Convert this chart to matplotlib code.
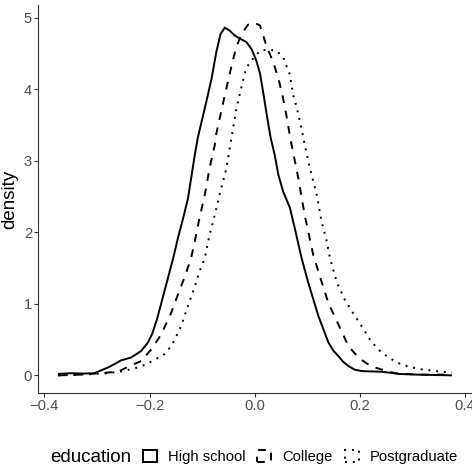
import matplotlib
matplotlib.use("Agg")
import matplotlib.pyplot as plt
from matplotlib.patches import Patch

plt.rcParams['font.family'] = ['Liberation Sans', 'DejaVu Sans']

# density curves
hs_x = [-0.374, -0.35, -0.325, -0.305, -0.292, -0.279, -0.266, -0.254, -0.235, -0.216,
        -0.203, -0.195, -0.186, -0.178, -0.165, -0.155, -0.146, -0.136, -0.127, -0.121,
        -0.114, -0.108, -0.095, -0.082, -0.073, -0.065, -0.057, -0.048, -0.038, -0.029,
        -0.016, -0.006, 0.003, 0.010, 0.016, 0.022, 0.030, 0.038, 0.045, 0.054,
        0.067, 0.076, 0.089, 0.102, 0.121, 0.140, 0.150, 0.159, 0.168, 0.178,
        0.190, 0.203, 0.241, 0.260, 0.273, 0.310, 0.375]
hs_y = [0.02, 0.03, 0.025, 0.03, 0.07, 0.11, 0.16, 0.21, 0.25, 0.34,
        0.46, 0.58, 0.78, 1.00, 1.36, 1.64, 1.92, 2.20, 2.47, 2.75,
        3.08, 3.33, 3.73, 4.15, 4.52, 4.77, 4.86, 4.82, 4.75, 4.71,
        4.66, 4.56, 4.40, 4.22, 3.96, 3.68, 3.33, 3.08, 2.80, 2.57,
        2.34, 2.06, 1.64, 1.29, 0.83, 0.46, 0.34, 0.27, 0.19, 0.13,
        0.08, 0.06, 0.05, 0.035, 0.02, 0.01, 0.0]

col_x = [-0.374, -0.33, -0.295, -0.26, -0.241, -0.216, -0.197, -0.178, -0.159, -0.146,
         -0.133, -0.121, -0.114, -0.105, -0.095, -0.086, -0.076, -0.073, -0.057, -0.044,
         -0.035, -0.025, -0.013, -0.001, 0.010, 0.022, 0.035, 0.045, 0.054, 0.060,
         0.068, 0.083, 0.095, 0.111, 0.124, 0.140, 0.156, 0.178, 0.197, 0.212,
         0.229, 0.250, 0.267, 0.310, 0.375]
col_y = [0.0, 0.01, 0.03, 0.05, 0.12, 0.2, 0.36, 0.57, 0.87, 1.13,
         1.38, 1.64, 1.87, 2.20, 2.52, 2.89, 3.22, 3.38, 3.91, 4.33,
         4.59, 4.77, 4.90, 4.93, 4.89, 4.61, 4.38, 4.15, 3.87, 3.64,
         3.30, 2.75, 2.24, 1.69, 1.38, 1.01, 0.76, 0.41, 0.25, 0.17,
         0.11, 0.06, 0.03, 0.01, 0.01]

pg_x = [-0.374, -0.33, -0.279, -0.25, -0.222, -0.205, -0.19, -0.171, -0.16, -0.152,
        -0.140, -0.127, -0.114, -0.105, -0.095, -0.086, -0.076, -0.067, -0.054, -0.044,
        -0.035, -0.025, -0.016, -0.006, 0.010, 0.026, 0.041, 0.054, 0.060, 0.067,
        0.073, 0.079, 0.083, 0.089, 0.092, 0.105, 0.118, 0.127, 0.137, 0.143,
        0.156, 0.171, 0.187, 0.203, 0.219, 0.235, 0.254, 0.279, 0.311, 0.343,
        0.375]
pg_y = [0.0, 0.01, 0.03, 0.06, 0.11, 0.16, 0.22, 0.30, 0.40, 0.50,
        0.69, 0.97, 1.24, 1.45, 1.64, 1.96, 2.24, 2.52, 2.89, 3.33,
        3.72, 4.04, 4.30, 4.40, 4.54, 4.55, 4.54, 4.45, 4.33, 4.20,
        3.92, 3.77, 3.64, 3.45, 3.33, 2.89, 2.52, 2.15, 1.87, 1.64,
        1.30, 1.06, 0.87, 0.69, 0.50, 0.36, 0.25, 0.15, 0.09, 0.06,
        0.04]

labels = ["High school", "College", "Postgraduate"]
styles = ["-", (0, (4, 4)), (0, (1, 3))]
series = [(hs_x, hs_y), (col_x, col_y), (pg_x, pg_y)]

W, H = 472, 467
fig = plt.figure(figsize=(W / 100, H / 100), dpi=100)
ax = fig.add_axes([38.3 / W, 74 / H, (471.7 - 38.3) / W, (393 - 5) / H])

lw = 1.4
for (x, y), ls in zip(series, styles):
    ax.plot(x, y, color="black", lw=lw, linestyle=ls, dash_capstyle="butt",
            solid_capstyle="butt", solid_joinstyle="round")

xmin = min(min(s[0]) for s in series)
xmax = max(max(s[0]) for s in series)
ymax = max(max(s[1]) for s in series)
ax.set_xlim(xmin - 0.05 * (xmax - xmin), xmax + 0.05 * (xmax - xmin))
ax.set_ylim(-0.05 * ymax, ymax * 1.05)

ax.set_xticks([-0.4, -0.2, 0.0, 0.2, 0.4])
ax.set_xticklabels(["\u22120.4", "\u22120.2", "0.0", "0.2", "0.4"])
ax.set_yticks([0, 1, 2, 3, 4, 5])

for side in ["top", "right"]:
    ax.spines[side].set_visible(False)
for side in ["left", "bottom"]:
    ax.spines[side].set_color("#333333")
    ax.spines[side].set_linewidth(0.8)
ax.tick_params(length=3, width=0.8, color="#333333", labelcolor="#4D4D4D",
               labelsize=10.6, pad=1.5)

ax.set_ylabel("density", fontsize=13.5, color="black")
ax.yaxis.set_label_coords(-0.047, 0.5)

handles = [Patch(facecolor="white", edgecolor="black", linewidth=lw, linestyle=ls)
           for ls in styles]
fig.text(50 / W, 1 - 457 / H, "education", fontsize=13.5, va="center", ha="left")
fig.legend(handles, labels, loc="center left",
           bbox_to_anchor=(143 / W, 1 - 457 / H), ncol=3, frameon=False,
           fontsize=10.6, handlelength=0.95, handleheight=0.95,
           handletextpad=0.75, columnspacing=0.8, borderpad=0, borderaxespad=0)

fig.savefig("out.png", dpi=100)
